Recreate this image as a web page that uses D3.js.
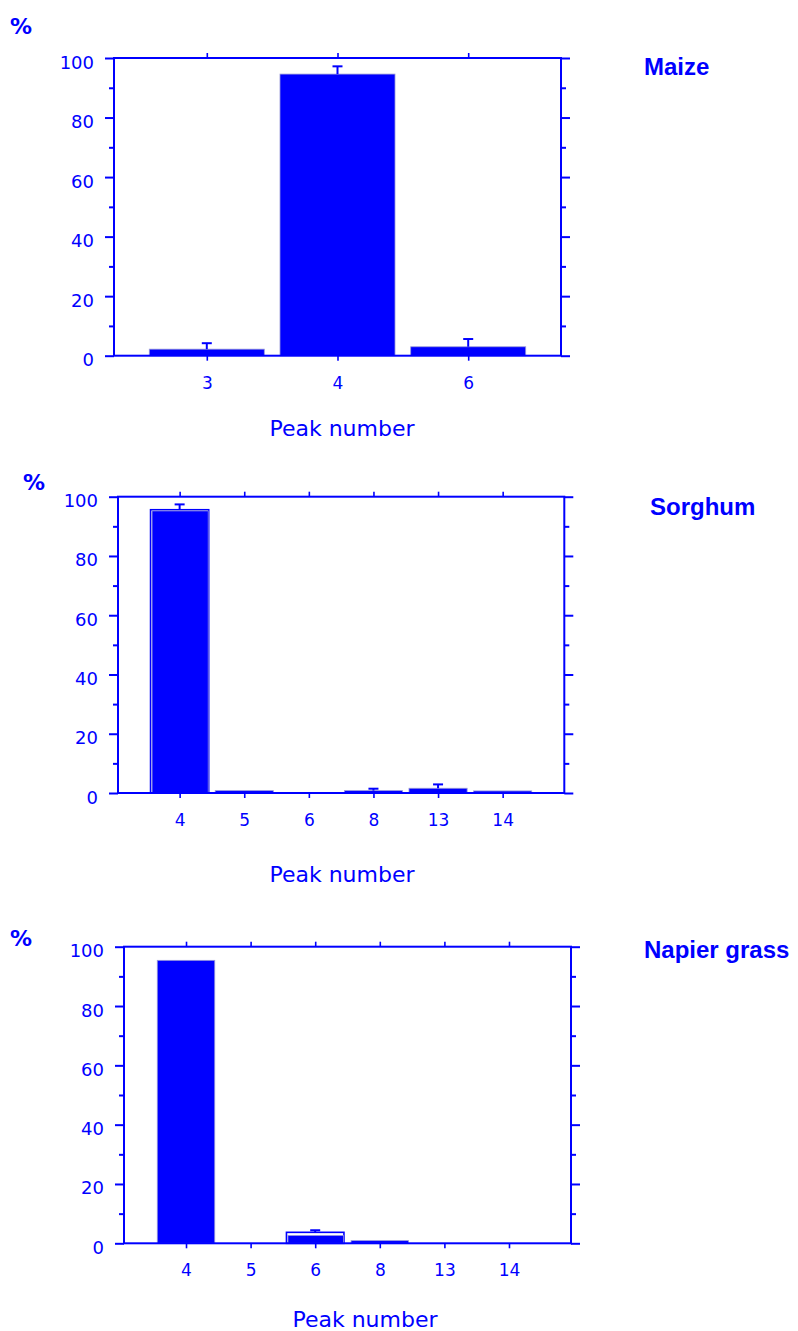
<!DOCTYPE html>
<html>
<head>
<meta charset="utf-8">
<script src="https://cdn.jsdelivr.net/npm/d3@7"></script>
<style>
  html, body { margin: 0; padding: 0; background: #fff; }
  svg { display: block; }
</style>
</head>
<body>
<svg id="chart" width="798" height="1331"></svg>
<script>
// Relative abundance (%) of each peak, per forage crop
const maizePeaks = ["3", "4", "6"];
const maizeValues = [2.2, 94.6, 3.0];
const maizeFill = [2.2, 94.6, 3.0];
const maizeErrors = [2.0, 2.6, 2.6];

const sorghumPeaks = ["4", "5", "6", "8", "13", "14"];
const sorghumValues = [95.6, 0.8, 0, 0.8, 1.6, 0.7];
const sorghumFill = [95.2, 0.8, 0, 0.8, 1.6, 0.7];
const sorghumErrors = [1.8, 0, 0, 0.65, 1.3, 0];

const napierPeaks = ["4", "5", "6", "8", "13", "14"];
const napierValues = [95.4, 0, 3.7, 0.9, 0, 0];
const napierFill = [95.4, 0, 2.6, 0.9, 0, 0];
const napierErrors = [0, 0, 0.7, 0, 0, 0];

const yMajorTicks = [0, 20, 40, 60, 80, 100];
const yMinorTicks = [10, 30, 50, 70, 90];
const titles = ["Maize", "Sorghum", "Napier grass"];
const xTitle = "Peak number";
const yTitle = "%";

const BLUE = "#0000ff";
const TICK_FONT = "'DejaVu Sans', Verdana, sans-serif";
const svg = d3.select("#chart");

const panels = [
  { peaks: maizePeaks, values: maizeValues, fill: maizeFill, errors: maizeErrors, title: titles[0],
    left: 114, right: 561, top: 58, bottom: 355.7, pad: 0.71, barFrac: 0.88,
    pct: [10, 34], titlePos: [644, 75], xTitlePos: [342, 436] },
  { peaks: sorghumPeaks, values: sorghumValues, fill: sorghumFill, errors: sorghumErrors, title: titles[1],
    left: 118, right: 564.3, top: 496.7, bottom: 793, pad: 0.954, barFrac: 0.9,
    pct: [23, 490], titlePos: [650, 515], xTitlePos: [342, 882] },
  { peaks: napierPeaks, values: napierValues, fill: napierFill, errors: napierErrors, title: titles[2],
    left: 124, right: 571, top: 946.7, bottom: 1243.3, pad: 0.96, barFrac: 0.89,
    pct: [10, 946], titlePos: [644, 958], xTitlePos: [365, 1327] }
];

panels.forEach(p => {
  const g = svg.append("g");
  const x = d3.scalePoint().domain(p.peaks).range([p.left, p.right]).padding(p.pad);
  const y = d3.scaleLinear().domain([0, 100]).range([p.bottom, p.top]);
  const bw = x.step() * p.barFrac;

  // bars: outlined mean with inner fill
  p.peaks.forEach((k, i) => {
    const v = p.values[i], f = p.fill[i];
    if (v <= 0) return;
    const cx = x(k);
    if (f < v - 0.05) {
      g.append("rect")
        .attr("x", cx - bw / 2).attr("y", y(v))
        .attr("width", bw).attr("height", y(0) - y(v))
        .attr("fill", "#fff").attr("stroke", BLUE).attr("stroke-width", 1.6);
      g.append("rect")
        .attr("x", cx - bw / 2 + 1.5).attr("y", y(f))
        .attr("width", bw - 2).attr("height", y(0) - y(f))
        .attr("fill", BLUE).attr("stroke", "#8f8fd8").attr("stroke-width", 0.8);
    } else {
      g.append("rect")
        .attr("x", cx - bw / 2).attr("y", y(v))
        .attr("width", bw).attr("height", y(0) - y(v))
        .attr("fill", BLUE).attr("stroke", "#9a9ad8").attr("stroke-width", 0.8);
    }
  });

  // error bars (upper half)
  p.peaks.forEach((k, i) => {
    const e = p.errors[i];
    if (!e) return;
    const cx = x(k), v = p.values[i];
    g.append("line").attr("x1", cx).attr("x2", cx)
      .attr("y1", y(v)).attr("y2", y(v + e))
      .attr("stroke", BLUE).attr("stroke-width", 2);
    g.append("line").attr("x1", cx - 5).attr("x2", cx + 5)
      .attr("y1", y(v + e)).attr("y2", y(v + e))
      .attr("stroke", BLUE).attr("stroke-width", 2);
  });

  // frame
  g.append("rect")
    .attr("x", p.left).attr("y", p.top)
    .attr("width", p.right - p.left).attr("height", p.bottom - p.top)
    .attr("fill", "none").attr("stroke", BLUE).attr("stroke-width", 2);

  const styleAxis = sel => {
    sel.select(".domain").remove();
    sel.selectAll(".tick line").attr("stroke", BLUE).attr("stroke-width", 2);
  };

  // left axis: major with labels, minor unlabeled
  g.append("g").attr("transform", `translate(${p.left},0)`)
    .call(d3.axisLeft(y).tickValues(yMajorTicks).tickSize(9).tickPadding(11))
    .call(styleAxis)
    .call(a => a.selectAll("text")
      .attr("fill", BLUE).attr("dy", null).attr("y", 10)
      .style("font-family", TICK_FONT).style("font-size", "18px"));
  g.append("g").attr("transform", `translate(${p.left},0)`)
    .call(d3.axisLeft(y).tickValues(yMinorTicks).tickSize(5).tickFormat(""))
    .call(styleAxis);

  // right axis ticks
  g.append("g").attr("transform", `translate(${p.right},0)`)
    .call(d3.axisRight(y).tickValues(yMajorTicks).tickSize(9).tickFormat(""))
    .call(styleAxis);
  g.append("g").attr("transform", `translate(${p.right},0)`)
    .call(d3.axisRight(y).tickValues(yMinorTicks).tickSize(5).tickFormat(""))
    .call(styleAxis);

  // top ticks at each peak
  g.append("g").attr("transform", `translate(0,${p.top})`)
    .call(d3.axisTop(x).tickSize(5).tickFormat(""))
    .call(styleAxis)
    .call(a => a.selectAll(".tick line").attr("stroke-width", 1.6));

  // bottom axis with peak labels
  g.append("g").attr("transform", `translate(0,${p.bottom})`)
    .call(d3.axisBottom(x).tickSize(5).tickPadding(0))
    .call(styleAxis)
    .call(a => a.selectAll(".tick line").attr("stroke-width", 1.6))
    .call(a => a.selectAll("text")
      .attr("fill", BLUE).attr("dy", null).attr("y", 33)
      .style("font-family", TICK_FONT).style("font-size", "17px"));

  // axis titles
  g.append("text").attr("x", p.xTitlePos[0]).attr("y", p.xTitlePos[1])
    .attr("text-anchor", "middle").attr("fill", BLUE)
    .style("font-family", TICK_FONT).style("font-size", "22px")
    .text(xTitle);
  g.append("text").attr("x", p.pct[0]).attr("y", p.pct[1])
    .attr("fill", BLUE)
    .style("font-family", TICK_FONT).style("font-size", "22px")
    .style("font-weight", "bold")
    .text(yTitle);

  // crop name
  g.append("text").attr("x", p.titlePos[0]).attr("y", p.titlePos[1])
    .attr("fill", BLUE)
    .style("font-family", "'Liberation Sans', Arial, sans-serif").style("font-size", "24px")
    .style("font-weight", "bold")
    .text(p.title);
});
</script>
</body>
</html>
